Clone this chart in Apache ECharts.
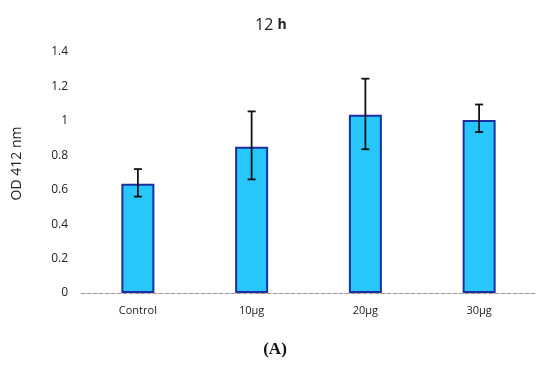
<!DOCTYPE html>
<html><head><meta charset="utf-8">
<script src="https://cdn.jsdelivr.net/npm/echarts@6/dist/echarts.min.js"></script>
<style>html,body{margin:0;padding:0;background:#fff}#c{width:550px;height:365px}</style>
</head><body><div id="c"></div>
<script>
var categories = ['Control', '10μg', '20μg', '30μg'];
var values = [0.635, 0.85, 1.035, 1.005];
var errLow = [0.56, 0.66, 0.835, 0.935];
var errHigh = [0.72, 1.055, 1.245, 1.095];
var yTicks = [0, 0.2, 0.4, 0.6, 0.8, 1, 1.2, 1.4];

var chart = echarts.init(document.getElementById('c'));
chart.setOption({
  animation: false,
  title: [{
    text: '{a|12 }{b|h}', left: 250, top: 12,
    textStyle: {
      rich: {
        a: {fontFamily: 'Open Sans', fontSize: 16, fontWeight: 'normal', color: '#222'},
        b: {fontFamily: 'Open Sans', fontSize: 14, fontWeight: 'bold', color: '#222'}
      }}
  }, {
    text: '(A)', left: 270, top: 336, textAlign: 'center',
    textStyle: {fontFamily: 'Liberation Serif', fontSize: 17, fontWeight: 'bold', color: '#111'}
  }],
  grid: {left: 81, right: 14, top: 52, bottom: 72, containLabel: false},
  xAxis: {
    type: 'category', data: categories,
    axisLine: {lineStyle: {color: '#999', type: 'dashed', width: 1}},
    axisTick: {show: false},
    axisLabel: {fontFamily: 'Open Sans', fontSize: 11, color: '#222', margin: 12}
  },
  yAxis: {
    type: 'value', min: 0, max: 1.4, interval: 0.2,
    name: 'OD 412 nm', nameLocation: 'middle', nameGap: 57, nameRotate: 90,
    nameTextStyle: {fontFamily: 'Open Sans', fontSize: 14, color: '#222', padding: [0, 0, 0, 18]},
    axisLine: {show: false}, axisTick: {show: false}, splitLine: {show: false},
    axisLabel: {fontFamily: 'Open Sans', fontSize: 12, color: '#222', margin: 13,
      formatter: function (v) { return String(+v.toFixed(1)); }}
  },
  series: [{
    type: 'bar', data: values, barWidth: 33,
    itemStyle: {color: '#27c6fb', borderColor: '#1b2fa0', borderWidth: 2}
  }, {
    type: 'custom',
    data: categories.map(function (c, i) { return [i, errLow[i], errHigh[i]]; }),
    renderItem: function (params, api) {
      var lo = api.coord([api.value(0), api.value(1)]);
      var hi = api.coord([api.value(0), api.value(2)]);
      var w = 4;
      var s = {stroke: '#111', lineWidth: 1.8};
      return {type: 'group', children: [
        {type: 'line', shape: {x1: hi[0], y1: hi[1], x2: lo[0], y2: lo[1]}, style: s},
        {type: 'line', shape: {x1: hi[0] - w, y1: hi[1], x2: hi[0] + w, y2: hi[1]}, style: s},
        {type: 'line', shape: {x1: lo[0] - w, y1: lo[1], x2: lo[0] + w, y2: lo[1]}, style: s}
      ]};
    },
    z: 10
  }]
});
</script></body></html>
